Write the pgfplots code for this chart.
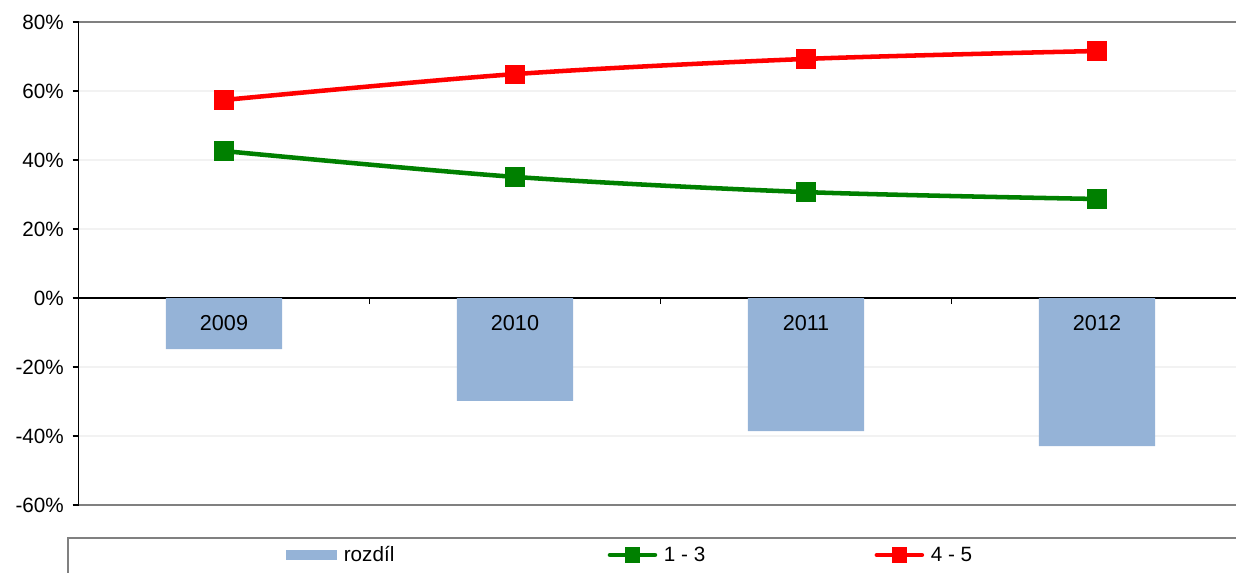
\documentclass[border=0pt]{standalone}
\usepackage{pgfplots}
\pgfplotsset{compat=1.18}
\usepackage{fontspec}
\setmainfont{Liberation Sans}
\definecolor{barblue}{HTML}{95B3D7}
\definecolor{lgreen}{HTML}{008000}
\definecolor{lred}{HTML}{FF0000}
\definecolor{framegray}{HTML}{808080}
\pgfplotsset{
  linelegend/.style={legend image code/.code={\draw[##1, line cap=round, mark size=4pt, mark repeat=2, mark phase=2] plot coordinates {(0pt,0pt) (16.9pt,0pt) (33.75pt,0pt)};}},
  barlegend/.style={legend image code/.code={\fill[barblue] (0pt,-4.1pt) rectangle (38.5pt,4.1pt);}}
}
\begin{document}
\begin{tikzpicture}
\path[use as bounding box] (0pt,0pt) rectangle (927pt,429pt);
\draw[framegray, line width=1.5pt] (51pt,-15pt) rectangle (975pt,25.5pt);
\begin{axis}[
  at={(58.875pt,50.25pt)}, anchor=south west,
  scale only axis, width=873pt, height=362.25pt,
  xmin=-0.5, xmax=3.5, ymin=-60, ymax=80,
  axis x line=middle, axis y line=left,
  x axis line style={-, black, line width=0.8pt},
  y axis line style={-, black, line width=1.2pt},
  xtick={0.5,1.5,2.5}, xticklabels={},
  ytick={-60,-40,...,80},
  yticklabel={\pgfmathprintnumber{\tick}\%},
  /pgf/number format/assume math mode=true,
  tick align=outside, major tick length=4.5pt,
  tick style={black, line width=0.8pt},
  ymajorgrids, grid style={color=black!5, line width=0.8pt},
  yticklabel style={font=\fontsize{15.5}{18}\selectfont, xshift=-3pt},
  clip=false,
  legend columns=3,
  legend style={at={(0.1779,-0.1035)}, anchor=west, draw=none, fill=none, inner sep=0pt,
    font=\fontsize{15.5}{18}\selectfont,
    nodes={inner xsep=0pt, inner ysep=0pt},
    /tikz/every odd column/.style={column sep=5pt},
    /tikz/column 2/.style={column sep=160pt},
    /tikz/column 4/.style={column sep=127pt}},
]
\addplot[ybar, bar width=0.4, fill=barblue, draw=none, barlegend]
  coordinates {(0,-14.8) (1,-29.8) (2,-38.6) (3,-42.9)};
\addlegendentry{rozdíl}
\addplot[lgreen, line width=3.4pt, smooth, tension=0.5, mark=square*, mark size=5.5pt, mark options={solid}, linelegend]
  coordinates {(0,42.6) (1,35.1) (2,30.7) (3,28.7)};
\addlegendentry{1 - 3}
\addplot[lred, line width=3.4pt, smooth, tension=0.5, mark=square*, mark size=5.5pt, mark options={solid}, linelegend]
  coordinates {(0,57.4) (1,64.9) (2,69.3) (3,71.6)};
\addlegendentry{4 - 5}
\draw[framegray, line width=1.5pt] (rel axis cs:0,1) -- (rel axis cs:1.1,1);
\draw[framegray, line width=1.5pt] (rel axis cs:0,0) -- (rel axis cs:1.1,0);
\node[font=\fontsize{16.2}{19}\selectfont] at (axis cs:0,-7.25) {2009};
\node[font=\fontsize{16.2}{19}\selectfont] at (axis cs:1,-7.25) {2010};
\node[font=\fontsize{16.2}{19}\selectfont] at (axis cs:2,-7.25) {2011};
\node[font=\fontsize{16.2}{19}\selectfont] at (axis cs:3,-7.25) {2012};
\end{axis}
\end{tikzpicture}
\end{document}
